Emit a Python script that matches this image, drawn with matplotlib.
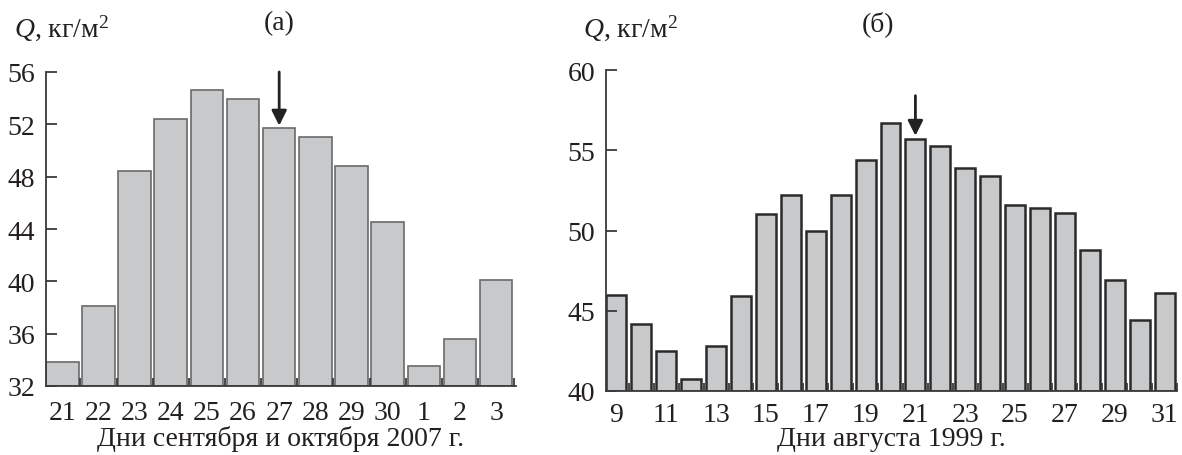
import matplotlib
matplotlib.use("Agg")
import matplotlib.pyplot as plt
import numpy as np

# ---- panel (а): September/October 2007 ----
days_a = ["21", "22", "23", "24", "25", "26", "27", "28", "29", "30", "1", "2", "3"]
q_a = [33.8, 38.1, 48.4, 52.4, 54.6, 53.9, 51.7, 51.0, 48.8, 44.5, 33.5, 35.6, 40.1]
yticks_a = [32, 36, 40, 44, 48, 52, 56]
arrow_a = 6  # index of "27"

# ---- panel (б): August 1999 ----
days_b = list(range(9, 32))
q_b = [46.0, 44.2, 42.5, 40.75, 42.8, 45.9, 51.0, 52.2, 50.0, 52.2, 54.4, 56.7,
       55.7, 55.25, 53.9, 53.4, 51.6, 51.4, 51.1, 48.8, 46.9, 44.4, 46.1]
yticks_b = [40, 45, 50, 55, 60]
arrow_b = 12  # index of "21"

TXT = "#231f20"
FILL = "#c8c9cb"
FS = 20
plt.rcParams["font.family"] = ["Liberation Serif", "DejaVu Serif"]
plt.rcParams["mathtext.fontset"] = "custom"
plt.rcParams["mathtext.rm"] = "Liberation Serif"
plt.rcParams["mathtext.it"] = "Liberation Serif:italic"
plt.rcParams["text.color"] = TXT

fig = plt.figure(figsize=(11.82, 4.56), dpi=100)
ax1 = fig.add_axes([46/1182, 69/456, 470/1182, 314/456])
ax2 = fig.add_axes([606/1182, 64/456, 571/1182, 321/456])


def style(ax, n, lw, xpad):
    for s in ("top", "right"):
        ax.spines[s].set_visible(False)
    for s in ("left", "bottom"):
        ax.spines[s].set_color("#3a3a3a"); ax.spines[s].set_linewidth(lw)
    ax.tick_params(axis="y", direction="in", length=8, width=lw, color="#3a3a3a",
                   labelsize=FS, labelcolor=TXT, pad=8)
    ax.tick_params(axis="x", which="major", length=0, labelsize=FS, labelcolor=TXT, pad=xpad)
    ax.set_xticks(np.arange(n) + 0.5, minor=True)
    ax.tick_params(axis="x", which="minor", direction="in", length=6, width=lw, color="#3a3a3a")


arrow_props = dict(arrowstyle="-|>,head_length=0.9,head_width=0.45", color="#222",
                   lw=2, shrinkA=0, shrinkB=0)

x_a = np.arange(len(days_a))
ax1.bar(x_a, np.array(q_a) - 32, bottom=32, width=0.9, color=FILL, edgecolor="#6a6a6a", lw=1.2)
ax1.set_xlim(-0.45, 12.55); ax1.set_ylim(32, 56)
ax1.set_yticks(yticks_a)
ax1.set_xticks(x_a); ax1.set_xticklabels(days_a)
style(ax1, len(days_a), 1.3, 10)
ax1.annotate("", xy=(arrow_a, q_a[arrow_a] + 0.2), xytext=(arrow_a, q_a[arrow_a] + 4.3),
             arrowprops=arrow_props)

x_b = np.arange(len(days_b))
ax2.bar(x_b, np.array(q_b) - 40, bottom=40, width=0.8, color=FILL, edgecolor="#2a2a2a", lw=1.8)
ax2.set_xlim(-0.42, 22.45); ax2.set_ylim(40, 60)
ax2.set_yticks(yticks_b)
ax2.set_xticks(x_b[::2]); ax2.set_xticklabels([str(d) for d in days_b[::2]])
style(ax2, len(days_b), 1.3, 8)
ax2.annotate("", xy=(arrow_b, q_b[arrow_b] + 0.2), xytext=(arrow_b, q_b[arrow_b] + 2.7),
             arrowprops=arrow_props)

# axis captions, placed on a common baseline as in the source figure
fig.text(281/1182, 1 - 446/456, "Дни сентября и октября 2007 г.", fontsize=FS,
         ha="center", va="baseline")
fig.text(891/1182, 1 - 446/456, "Дни августа 1999 г.", fontsize=FS,
         ha="center", va="baseline")

ylab = r"$Q$, кг/м$^2$"
fig.text(14/1182, 1 - 28/456, ylab, fontsize=FS, va="center", ha="left")
fig.text(583/1182, 1 - 28/456, ylab, fontsize=FS, va="center", ha="left")
fig.text(279/1182, 1 - 24/456, "(а)", fontsize=FS, va="center", ha="center")
fig.text(878/1182, 1 - 24/456, "(б)", fontsize=FS, va="center", ha="center")

fig.savefig("out.png", dpi=100)
